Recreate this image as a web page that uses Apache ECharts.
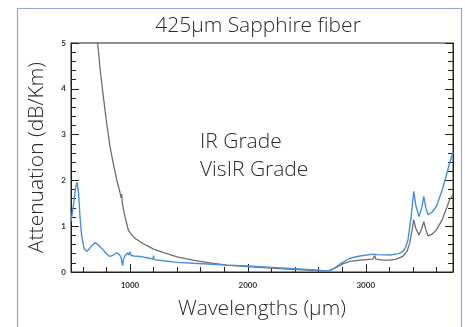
<!DOCTYPE html>
<html><head><meta charset="utf-8">
<script src="https://cdn.jsdelivr.net/npm/echarts@6/dist/echarts.min.js"></script>
<style>html,body{margin:0;padding:0;background:#fff}#c{width:465px;height:327px}</style>
</head><body><div id="c"></div>
<script>
// Gray curve
const grayWl = [700,726,750,774,800,830,860,887,910,925,930,935,950,970,986,1000,1010,1020,1030,1040,1050,1060,1070,1080,1090,1100,1113,1125,1150,1200,1254,1300,1400,1534,1650,1819,2000,2100,2300,2500,2670,2700,2750,2800,2864,2950,3060,3070,3076,3085,3150,3203,3260,3314,3350,3373,3395,3407,3425,3452,3475,3492,3510,3528,3560,3599,3650,3712,3740];
const grayVal = [5.8,5.0,4.35,3.84,3.3,2.75,2.35,2.02,1.8,1.62,1.7,1.5,1.3,1.08,0.92,0.86,0.84,0.80,0.80,0.74,0.76,0.71,0.73,0.67,0.69,0.64,0.65,0.60,0.57,0.50,0.45,0.41,0.33,0.26,0.21,0.15,0.12,0.10,0.07,0.04,0.02,0.04,0.10,0.17,0.23,0.26,0.28,0.30,0.36,0.28,0.26,0.26,0.28,0.34,0.45,0.63,0.95,1.14,0.95,0.81,0.95,1.10,0.92,0.79,0.82,0.92,1.15,1.58,1.68];
// Blue curve
const blueWl = [500,520,540,552,565,576,590,610,633,660,685,703,730,750,774,800,830,860,887,910,925,932,938,945,960,970,980,990,1000,1010,1020,1035,1050,1085,1140,1195,1200,1205,1300,1400,1537,1700,1820,2000,2200,2400,2600,2680,2720,2780,2864,2950,3062,3100,3203,3280,3316,3340,3358,3385,3407,3425,3452,3475,3492,3510,3528,3560,3599,3650,3712,3740];
const blueVal = [1.1,1.45,1.85,1.96,1.7,1.21,0.8,0.52,0.45,0.52,0.6,0.64,0.6,0.54,0.48,0.4,0.34,0.37,0.42,0.38,0.32,0.2,0.14,0.28,0.36,0.33,0.42,0.37,0.44,0.36,0.40,0.35,0.37,0.34,0.31,0.28,0.36,0.27,0.24,0.21,0.19,0.17,0.15,0.13,0.10,0.07,0.04,0.02,0.06,0.17,0.30,0.35,0.39,0.38,0.37,0.40,0.45,0.55,0.70,1.2,1.76,1.45,1.21,1.4,1.65,1.4,1.25,1.30,1.43,1.8,2.38,2.62];
const xMajorTicks = [1000,2000,3000];
const xMinorTicks = [600,800,1000,1200,1400,1600,1800,2000,2200,2400,2600,2800,3000,3200,3400,3600];

const grayData = grayWl.map((w,i)=>[w,grayVal[i]]);
const blueData = blueWl.map((w,i)=>[w,blueVal[i]]);
const FONT = 'Open Sans';
const TXT = '#2a2a2a';
const TF = '300 21px "Open Sans"';
const chart = echarts.init(document.getElementById('c'), null, {renderer:'canvas'});
chart.setOption({
  animation:false,
  grid:{left:71, right:12, top:43, bottom:55, show:true, borderColor:'#222', borderWidth:1, backgroundColor:'transparent'},
  xAxis:[{
    type:'value', min:500, max:3740, position:'bottom',
    name:'Wavelengths (µm)', nameLocation:'middle', nameGap:27,
    nameTextStyle:{fontFamily:FONT, fontWeight:300, fontSize:21, color:TXT},
    axisLine:{show:true, lineStyle:{color:'#222'}},
    axisTick:{show:true, inside:true, length:8, customValues:xMajorTicks, lineStyle:{color:'#222'}},
    axisLabel:{customValues:xMajorTicks, formatter:v=>String(v), fontFamily:'Lato', fontSize:8, fontWeight:'bold', color:'#333', margin:9},
    splitLine:{show:false}
  },{
    type:'value', min:500, max:3740, position:'bottom',
    axisLine:{show:false},
    axisTick:{show:true, inside:true, length:5, customValues:xMinorTicks, lineStyle:{color:'#222'}},
    axisLabel:{show:false}, splitLine:{show:false}
  }],
  yAxis:[{
    type:'value', min:0, max:5, interval:1, position:'left',
    name:'Attenuation (dB/Km)', nameLocation:'middle', nameGap:23,
    nameTextStyle:{fontFamily:FONT, fontWeight:300, fontSize:21, color:TXT},
    axisLine:{show:true, lineStyle:{color:'#222'}},
    axisTick:{show:true, inside:true, length:8, lineStyle:{color:'#222'}},
    minorTick:{show:true, splitNumber:5, length:5, lineStyle:{color:'#222'}},
    axisLabel:{fontFamily:'Lato', fontSize:8, fontWeight:'bold', color:'#333', margin:5},
    splitLine:{show:false}, minorSplitLine:{show:false}
  },{
    type:'value', min:0, max:5, interval:1, position:'right',
    axisLine:{show:true, lineStyle:{color:'#222'}},
    axisTick:{show:true, inside:true, length:8, lineStyle:{color:'#222'}},
    minorTick:{show:true, splitNumber:5, length:5, lineStyle:{color:'#222'}},
    axisLabel:{show:false}, splitLine:{show:false}, minorSplitLine:{show:false}
  }],
  series:[
    {name:'IR Grade', type:'line', data:grayData, showSymbol:false, symbol:'none', clip:true, lineStyle:{color:'#6e6e6e', width:1.3}, itemStyle:{color:'#6e6e6e'}},
    {name:'VisIR Grade', type:'line', data:blueData, showSymbol:false, symbol:'none', clip:true, lineStyle:{color:'#4a8fd6', width:1.4}, itemStyle:{color:'#4a8fd6'}}
  ],
  graphic:[
    {type:'rect', shape:{x:17.5, y:8.5, width:444, height:340}, style:{fill:'none', stroke:'#8fa9d6', lineWidth:1.2}, silent:true},
    {type:'text', x:258, y:26, style:{text:'425µm Sapphire fiber', font:TF, fill:TXT, align:'center', verticalAlign:'middle'}},
    {type:'text', x:200, y:142, style:{text:'IR Grade', font:TF, fill:TXT, verticalAlign:'middle'}},
    {type:'text', x:200, y:170, style:{text:'VisIR Grade', font:TF, fill:TXT, verticalAlign:'middle'}}
  ]
});
</script></body></html>
